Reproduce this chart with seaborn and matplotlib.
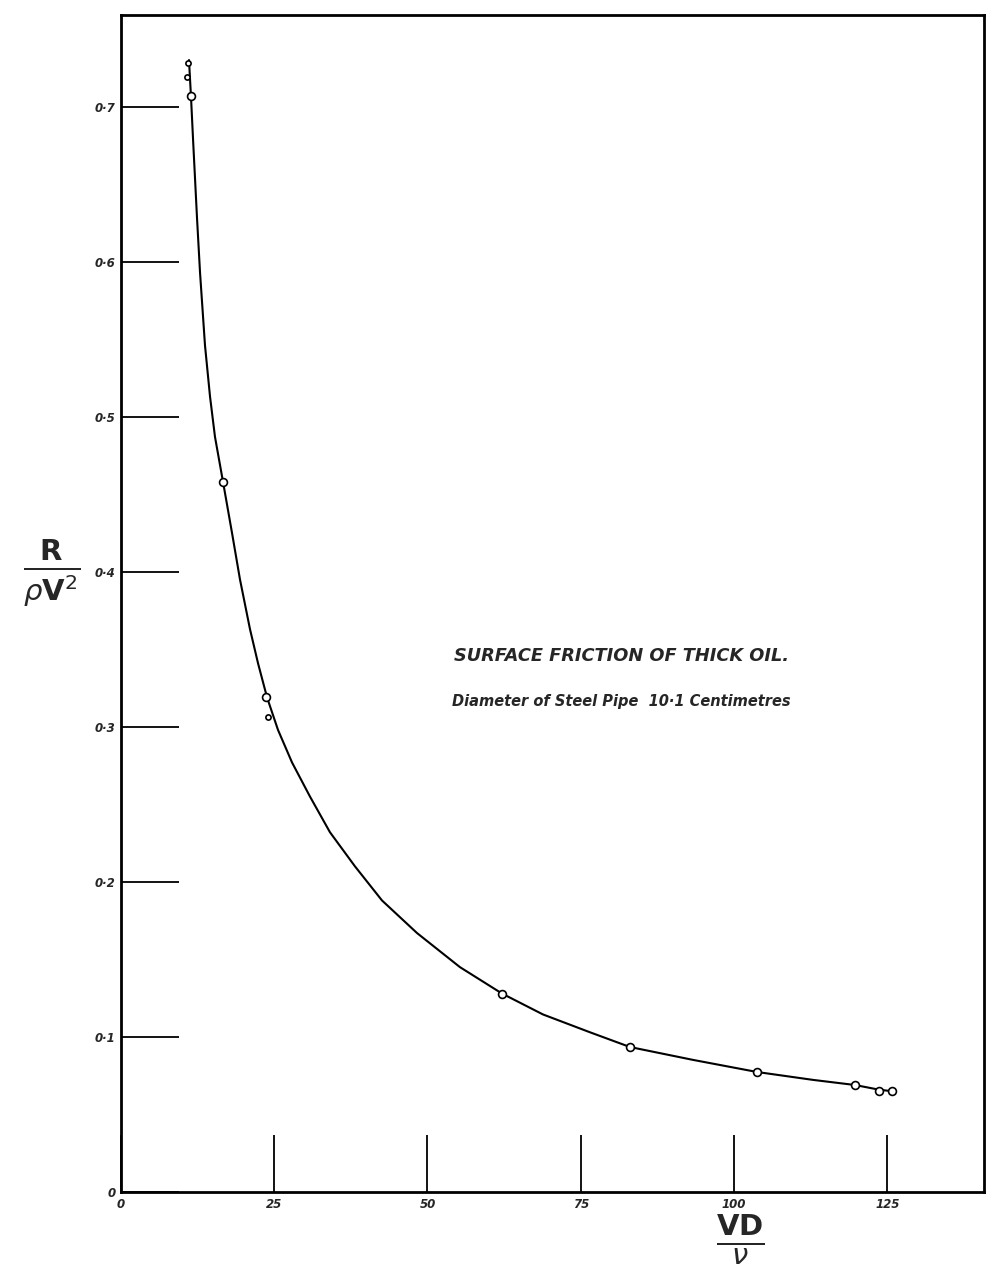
import matplotlib
matplotlib.use("Agg")
import matplotlib.pyplot as plt
import seaborn as sns
import pandas as pd

# smooth hand-drawn curve
curve_x = [11.09, 11.42, 11.75, 12.40, 12.89, 13.70, 14.52, 15.33, 16.64, 18.11,
           19.41, 21.04, 22.35, 23.82, 25.61, 27.90, 30.83, 34.09, 38.17, 42.58,
           48.29, 55.30, 62.15, 68.84, 76.51, 83.03, 93.31, 103.75, 112.89, 119.74,
           123.65, 125.77]
curve_y = [0.730, 0.706, 0.679, 0.628, 0.593, 0.546, 0.513, 0.487, 0.458, 0.425,
           0.395, 0.363, 0.341, 0.319, 0.298, 0.277, 0.255, 0.232, 0.210, 0.188,
           0.167, 0.145, 0.128, 0.1145, 0.103, 0.0935, 0.0852, 0.0774, 0.0723, 0.0690,
           0.0660, 0.0650]

# observed points (open circles)
obs_x = [11.4, 16.6, 23.7, 62.2, 83.0, 103.8, 119.7, 123.7, 125.8]
obs_y = [0.707, 0.458, 0.319, 0.128, 0.0935, 0.0774, 0.069, 0.065, 0.065]

# small extra marks
extra_x = [11.0, 10.7, 24.0]
extra_y = [0.728, 0.719, 0.306]

x_ticks = [0, 25, 50, 75, 100, 125]
x_labels = ["0", "25", "50", "75", "100", "125"]
y_ticks = [0, 0.1, 0.2, 0.3, 0.4, 0.5, 0.6, 0.7]
y_labels = ["0", "0·1", "0·2", "0·3", "0·4", "0·5", "0·6", "0·7"]

title = "SURFACE FRICTION OF THICK OIL."
subtitle = "Diameter of Steel Pipe  10·1 Centimetres"

sns.set_style("white")
plt.rcParams["font.family"] = ["DejaVu Sans"]
plt.rcParams["mathtext.fontset"] = "dejavusans"

fig = plt.figure(figsize=(9.96, 12.75), dpi=100)
ax = fig.add_axes([0.1215, 0.0651, 0.8665, 0.9231])

curve = pd.DataFrame({"x": curve_x, "y": curve_y})
obs = pd.DataFrame({"x": obs_x, "y": obs_y})
extra = pd.DataFrame({"x": extra_x, "y": extra_y})

sns.lineplot(data=curve, x="x", y="y", sort=False, estimator=None,
             color="black", linewidth=1.5, ax=ax)
sns.scatterplot(data=obs, x="x", y="y", s=32, facecolor="white",
                edgecolor="black", linewidth=1.2, zorder=3, ax=ax)
sns.scatterplot(data=extra, x="x", y="y", s=14, facecolor="white",
                edgecolor="black", linewidth=1.2, zorder=3, ax=ax)

ax.set_xlim(0, 140.8)
ax.set_ylim(0, 0.759)
ax.set_xticks(x_ticks)
ax.set_xticklabels(x_labels, fontsize=8.5, fontstyle="italic", fontweight="bold")
ax.set_yticks(y_ticks)
ax.set_yticklabels(y_labels, fontsize=8.5, fontstyle="italic", fontweight="bold")
ax.tick_params(axis="x", bottom=True, direction="in", length=41, width=1.3, pad=4,
               color="black")
ax.tick_params(axis="y", left=True, direction="in", length=42, width=1.3, pad=4,
               color="black")
ax.set_xlabel("")
ax.set_ylabel("")
for sp in ax.spines.values():
    sp.set_visible(True)
    sp.set_color("black")
    sp.set_linewidth(2)

ax.text(0.58, 0.455, title, transform=ax.transAxes, ha="center", va="center",
        fontsize=12.8, fontstyle="italic", fontweight="bold")
ax.text(0.58, 0.417, subtitle, transform=ax.transAxes, ha="center", va="center",
        fontsize=10.5, fontstyle="italic", fontweight="bold")

fig.text(0.052, 0.55, r"$\frac{\mathbf{R}}{\rho\mathbf{V}^{2}}$", ha="center",
         va="center", fontsize=30)
fig.text(0.743, 0.028, r"$\frac{\mathbf{VD}}{\nu}$", ha="center", va="center",
         fontsize=30)

fig.savefig("out.png", dpi=100, facecolor="white")
